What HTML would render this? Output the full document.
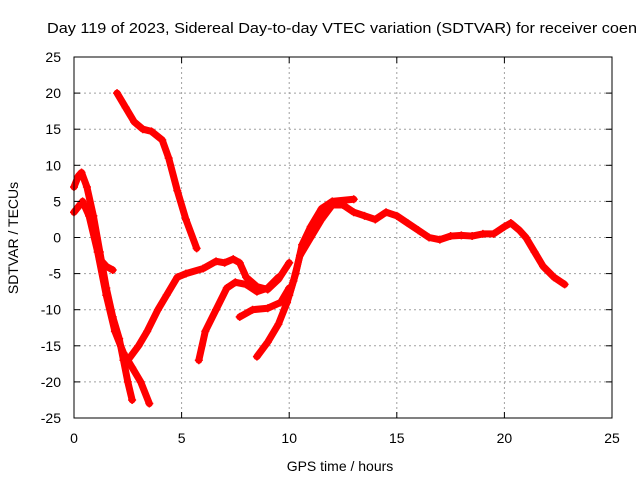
<!DOCTYPE html>
<html><head><meta charset="utf-8"><style>
body{margin:0;background:#fff;}
svg{display:block;font-family:"Liberation Sans",sans-serif;}
</style></head><body>
<svg id="chart" width="640" height="480">
<text x="47" y="33" font-size="15" textLength="590" lengthAdjust="spacingAndGlyphs">Day 119 of 2023, Sidereal Day-to-day VTEC variation (SDTVAR) for receiver coen</text>
<g id="grid"></g>
<g id="marks"></g>
<rect x="74" y="57" width="538" height="361" fill="none" stroke="#000" stroke-width="1"/>
<g id="ticks"></g>
<text x="340" y="471" font-size="14" text-anchor="middle">GPS time / hours</text>
<text transform="translate(18,238) rotate(-90)" font-size="14" text-anchor="middle">SDTVAR / TECUs</text>
</svg>
<script>
const xTicks=[0,5,10,15,20,25];
const yTicks=[-25,-20,-15,-10,-5,0,5,10,15,20,25];
const seriesA=[[0,7],[0.2,8.5],[0.35,9],[0.6,7],[0.9,3],[1.2,-2],[1.5,-7],[1.8,-11],[2.1,-14],[2.3,-17],[2.5,-20],[2.7,-22.5]];
const seriesA2=[[0,3.5],[0.4,5],[0.7,3],[1.1,-2],[1.5,-8],[1.9,-13],[2.3,-16],[2.7,-18],[3.1,-20],[3.5,-23]];
const seriesA3=[[1.2,-3],[1.5,-4],[1.8,-4.5]];
const seriesB=[[2,20],[2.4,18],[2.8,16],[3.2,15],[3.6,14.7],[4.1,13.5],[4.4,11],[4.8,6.5],[5.2,2.5],[5.7,-1.5]];
const seriesC=[[2.5,-17],[3,-15],[3.4,-13],[3.9,-10],[4.3,-8],[4.8,-5.5],[5.2,-5],[6,-4.3],[6.6,-3.3],[7,-3.5],[7.4,-3],[7.7,-3.5],[8,-5.5],[8.5,-6.8],[9,-7.2],[9.5,-5.8],[10,-3.5]];
const seriesD=[[5.8,-17],[6.1,-13],[6.6,-10],[7.1,-7],[7.5,-6.2],[8,-6.5],[8.5,-7.5],[9,-7],[9.5,-5.5]];
const seriesD2=[[7.7,-11],[8.3,-10],[9,-9.8],[9.6,-9],[10,-7]];
const seriesE=[[8.5,-16.5],[9,-14.5],[9.5,-12],[9.9,-9],[10.2,-6],[10.5,-2.5],[11,0],[11.5,2.5],[12,4.5],[12.5,4.5],[13,3.5],[13.5,3],[14,2.5],[14.5,3.5],[15,3],[15.5,2],[16,1],[16.5,0],[17,-0.3],[17.5,0.2],[18,0.3],[18.5,0.2],[19,0.5],[19.5,0.5],[20,1.5],[20.3,2],[20.7,1],[21,0],[21.4,-2],[21.8,-4],[22.3,-5.5],[22.8,-6.5]];
const seriesF=[[10,-8],[10.3,-5],[10.6,-1],[11,1.5],[11.5,4],[12,5],[13,5.3]];
const allSeries=[seriesA,seriesA2,seriesA3,seriesB,seriesC,seriesD,seriesD2,seriesE,seriesF];
const NS="http://www.w3.org/2000/svg";
const X0=74,X1=612,Y0=418,Y1=57;
function px(x){return X0+(x-0)/(25-0)*(X1-X0);}
function py(y){return Y0-(y+25)/(50)*(Y0-Y1);}
function mk(t,a,p){const e=document.createElementNS(NS,t);for(const k in a)e.setAttribute(k,a[k]);p.appendChild(e);return e;}
const grid=document.getElementById('grid'),ticks=document.getElementById('ticks'),marks=document.getElementById('marks');
xTicks.forEach(v=>{
  if(v>0&&v<25){const l=mk('line',{x1:px(v),x2:px(v),y1:Y1,y2:Y0,stroke:'#a0a0a0','stroke-dasharray':'2,3'},grid);
  
  }
  const t=mk('text',{x:px(v),y:Y0+25,'font-size':14,'text-anchor':'middle'},ticks);t.textContent=v;
  
  
  mk('line',{x1:px(v),x2:px(v),y1:Y0,y2:Y0-6,stroke:'#000'},ticks);
  mk('line',{x1:px(v),x2:px(v),y1:Y1,y2:Y1+6,stroke:'#000'},ticks);
});
yTicks.forEach(v=>{
  if(v>-25&&v<25){const l=mk('line',{x1:X0,x2:X1,y1:py(v),y2:py(v),stroke:'#a0a0a0','stroke-dasharray':'2,3'},grid);
  
  }
  const t=mk('text',{x:X0-13,y:py(v)+5,'font-size':14,'text-anchor':'end'},ticks);t.textContent=v;
  
  
  mk('line',{x1:X0,x2:X0+6,y1:py(v),y2:py(v),stroke:'#000'},ticks);
  mk('line',{x1:X1,x2:X1-6,y1:py(v),y2:py(v),stroke:'#000'},ticks);
});
allSeries.forEach((s,i)=>{
  const pl=mk('polyline',{points:s.map(p=>px(p[0])+','+py(p[1])).join(' '),fill:'none',stroke:'#ff0000','stroke-width':7,'stroke-linejoin':'round','stroke-linecap':'round'},marks);
  
  
  s.forEach(p=>{
    const g=mk('path',{d:`M${px(p[0])-4},${py(p[1])}h8M${px(p[0])},${py(p[1])-4}v8`,stroke:'#ff0000','stroke-width':1.5},marks);
    
    
  });
});
</script>
</body></html>
